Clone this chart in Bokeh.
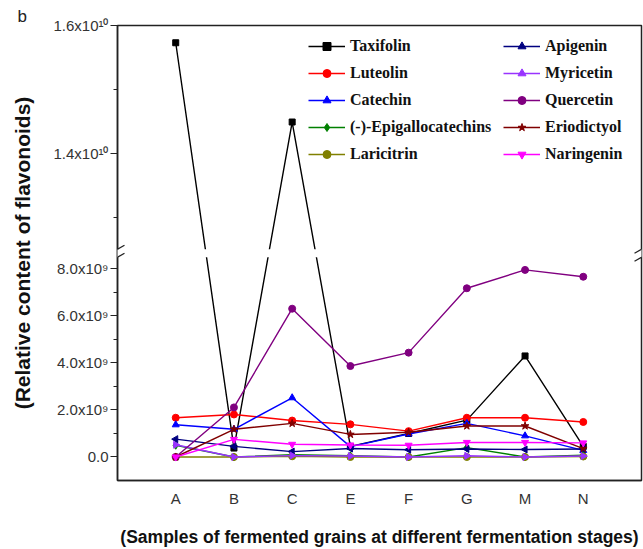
import math
from bokeh.plotting import figure
from bokeh.models import (FixedTicker, Legend, LegendItem, BoxAnnotation,
                          Arrow, Range1d)
from bokeh.embed import file_html
from bokeh.resources import INLINE

# ---------------- data ----------------
categories = ["A", "B", "C", "E", "F", "G", "M", "N"]

taxifolin = [1.573e10, 0.38e9, 1.449e10, 0.45e9, 1.00e9, 1.57e9, 4.30e9, 0.45e9]
luteolin = [1.67e9, 1.81e9, 1.55e9, 1.39e9, 1.10e9, 1.67e9, 1.67e9, 1.49e9]
catechin = [1.37e9, 1.18e9, 2.52e9, 0.44e9, 0.98e9, 1.43e9, 0.90e9, 0.28e9]
epigallocatechins = [0.50e9, 0.00e9, 0.10e9, 0.05e9, 0.00e9, 0.40e9, 0.00e9, 0.08e9]
laricitrin = [0.00e9, 0.00e9, 0.03e9, 0.00e9, 0.00e9, 0.00e9, 0.00e9, 0.02e9]
apigenin = [0.76e9, 0.45e9, 0.23e9, 0.36e9, 0.31e9, 0.34e9, 0.32e9, 0.34e9]
myricetin = [0.52e9, 0.00e9, 0.06e9, 0.04e9, 0.00e9, 0.05e9, 0.00e9, 0.04e9]
quercetin = [0.00e9, 2.11e9, 6.31e9, 3.87e9, 4.44e9, 7.18e9, 7.96e9, 7.67e9]
eriodictyol = [0.00e9, 1.18e9, 1.43e9, 0.96e9, 1.05e9, 1.32e9, 1.32e9, 0.36e9]
naringenin = [0.00e9, 0.75e9, 0.54e9, 0.51e9, 0.50e9, 0.62e9, 0.62e9, 0.60e9]

y_major_lower = [0.0, 2.0e9, 4.0e9, 6.0e9, 8.0e9]
y_major_lower_labels = ["0.0", "2.0x10\u2079", "4.0x10\u2079", "6.0x10\u2079", "8.0x10\u2079"]
y_minor_lower = [1.0e9, 3.0e9, 5.0e9, 7.0e9]
y_major_upper = [1.4e10, 1.6e10]
y_major_upper_labels = ["1.4x10\u00b9\u2070", "1.6x10\u00b9\u2070"]
y_minor_upper = [1.3e10, 1.5e10]

# ---------------- broken axis mapping ----------------
Y_MIN = -1.0e9
Y_MAX = 1.6e10
BRK_LO = 8.5e9     # top of lower segment
BRK_HI = 1.25e10   # bottom of upper segment
GAP = 0.34         # display units of white gap
K = 2.72           # upper segment stretch factor


def disp(v):
    v = v / 1e9
    lo = BRK_LO / 1e9
    hi = BRK_HI / 1e9
    if v <= lo:
        return v
    return lo + GAP + (v - hi) * K


series = [
    ("Taxifolin", taxifolin, "#000000", "square", 0.0, 6),
    ("Luteolin", luteolin, "#ff0000", "circle", 0.0, 7),
    ("Catechin", catechin, "#0000ff", "triangle", 0.0, 7),
    ("(-)-Epigallocatechins", epigallocatechins, "#008000", "diamond", 0.0, 8),
    ("Laricitrin", laricitrin, "#808000", "circle", 0.0, 7),
    ("Apigenin", apigenin, "#000080", "triangle", math.pi / 2, 7),
    ("Myricetin", myricetin, "#9933ff", "triangle", -math.pi / 2, 7),
    ("Quercetin", quercetin, "#800080", "circle", 0.0, 7),
    ("Eriodictyol", eriodictyol, "#800000", "star", 0.0, 8),
    ("Naringenin", naringenin, "#ff00ff", "inverted_triangle", 0.0, 7),
]

x = list(range(len(categories)))

p = figure(width=643, height=549, output_backend="svg", toolbar_location=None,
           x_range=Range1d(-1, 8), y_range=Range1d(disp(Y_MIN), disp(Y_MAX)),
           min_border_left=117, min_border_right=2, min_border_top=25,
           min_border_bottom=68, title="b")
p.grid.visible = False
p.outline_line_color = "#222222"
p.outline_line_width = 1.5
p.background_fill_color = "white"
p.border_fill_color = "white"

# panel letter as the figure title, pushed to the left edge
p.title.align = "left"
p.title.offset = -100
p.title.standoff = 0
p.title.text_font = "Liberation Sans"
p.title.text_font_style = "normal"
p.title.text_font_size = "17px"
p.title.text_color = "#222222"

items = []
for name, vals, color, marker, ang, size in series:
    ys = [disp(v) for v in vals]
    rl = p.line(x, ys, line_color=color, line_width=1.4)
    rs = p.scatter(x, ys, marker=marker, angle=ang, size=size,
                   fill_color=color, line_color=color)
    items.append(LegendItem(label=name, renderers=[rl, rs]))

# ---------------- axes ----------------
tick_font = "Liberation Sans"
ya = p.yaxis[0]
ya.ticker = FixedTicker(ticks=[disp(v) for v in y_major_lower + y_major_upper],
                        minor_ticks=[disp(v) for v in y_minor_lower + y_minor_upper])
ya.major_label_overrides = {disp(v): lab for v, lab in
                            zip(y_major_lower + y_major_upper,
                                y_major_lower_labels + y_major_upper_labels)}
ya.axis_label = "(Relative content of flavonoids)"
ya.axis_label_text_font = tick_font
ya.axis_label_text_font_style = "bold"
ya.axis_label_text_font_size = "21px"
ya.axis_label_text_color = "#111111"
ya.axis_label_standoff = 16
ya.major_label_text_font = tick_font
ya.major_label_text_font_size = "15px"
ya.major_label_text_color = "#333333"
ya.major_tick_in = 0
ya.major_tick_out = 7
ya.minor_tick_in = 0
ya.minor_tick_out = 4
ya.axis_line_width = 1.5
ya.axis_line_color = "#222222"
ya.major_tick_line_color = "#222222"
ya.minor_tick_line_color = "#222222"
ya.major_label_standoff = 2

xa = p.xaxis[0]
xa.ticker = FixedTicker(ticks=x)
xa.major_label_overrides = {i: c for i, c in zip(x, categories)}
xa.axis_label = "(Samples of fermented grains at different fermentation stages)"
xa.axis_label_text_font = tick_font
xa.axis_label_text_font_style = "bold"
xa.axis_label_text_font_size = "17.5px"
xa.axis_label_text_color = "#111111"
xa.axis_label_standoff = 17
xa.major_label_text_font = tick_font
xa.major_label_text_font_size = "15px"
xa.major_label_text_color = "#333333"
xa.major_tick_line_color = None
xa.minor_tick_line_color = None
xa.major_tick_out = 0
xa.major_tick_in = 0
xa.major_label_standoff = 9
xa.axis_line_width = 1.5
xa.axis_line_color = "#222222"

# ---------------- axis break ----------------
gap_bottom = disp(BRK_LO)
gap_top = gap_bottom + GAP
p.add_layout(BoxAnnotation(left=-1.15, right=8.2, bottom=gap_bottom, top=gap_top,
                           fill_color="white", fill_alpha=1.0, line_color=None,
                           level="annotation"))
for xe in (-1, 8):
    for ye in (gap_bottom, gap_top):
        p.add_layout(Arrow(x_start=xe - 0.12, y_start=ye - 0.17,
                           x_end=xe + 0.12, y_end=ye + 0.17, end=None,
                           line_color="#222222", line_width=1.3))

# ---------------- legends ----------------
def make_legend(its, loc):
    lg = Legend(items=its, location=loc, orientation="vertical")
    lg.label_text_font = "Liberation Serif"
    lg.label_text_font_style = "bold"
    lg.label_text_font_size = "16px"
    lg.label_text_color = "#111111"
    lg.glyph_width = 37
    lg.glyph_height = 20
    lg.label_height = 20
    lg.spacing = 7
    lg.label_standoff = 5
    lg.padding = 0
    lg.margin = 0
    lg.background_fill_alpha = 0
    lg.border_line_color = None
    return lg

p.add_layout(make_legend(items[:5], (191, 316)))
p.add_layout(make_legend(items[5:], (386, 316)))

open("out.html", "w").write(file_html(p, INLINE))
